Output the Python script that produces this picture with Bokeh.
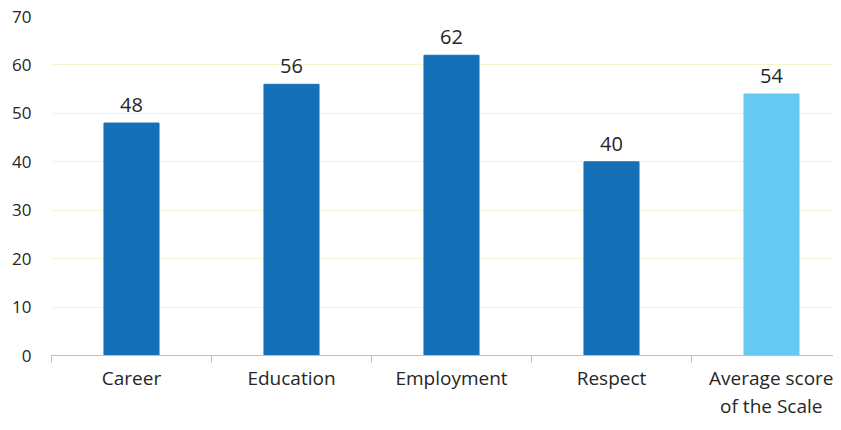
from bokeh.plotting import figure
from bokeh.models import ColumnDataSource, FixedTicker, Range1d
from bokeh.core.properties import value
from bokeh.embed import file_html
from bokeh.resources import INLINE

categories = ["Career", "Education", "Employment", "Respect", "Average score\nof the Scale"]
values = [48, 56, 62, 40, 54]
colors = ["#1570B8", "#1570B8", "#1570B8", "#1570B8", "#66C9F2"]
y_ticks = [0, 10, 20, 30, 40, 50, 60, 70]

xs = [i + 0.5 for i in range(len(categories))]
labels = [str(v) for v in values]
src = ColumnDataSource(dict(x=xs, top=values, color=colors, label=labels))

p = figure(width=833, height=422, output_backend="svg", toolbar_location=None,
           x_range=Range1d(0, 4.8875), y_range=Range1d(0, 70),
           min_border_left=51, min_border_right=0, min_border_top=16, min_border_bottom=67)
p.outline_line_color = None
p.background_fill_color = "white"
p.border_fill_color = "white"

p.vbar(x="x", top="top", width=0.344, color="color", source=src)
p.text(x="x", y="top", text="label", source=src, text_align="center", text_baseline="bottom",
       y_offset=-11, text_font=value("Open Sans"), text_font_size="20px", text_color="#262626")

# y axis
p.yaxis.ticker = FixedTicker(ticks=y_ticks)
p.yaxis.axis_line_color = None
p.yaxis.major_tick_line_color = None
p.yaxis.minor_tick_line_color = None
p.yaxis.major_label_standoff = 14
p.yaxis.major_label_text_font = "Open Sans"
p.yaxis.major_label_text_font_size = "17px"
p.yaxis.major_label_text_color = "#262626"

# x axis
p.xaxis.ticker = FixedTicker(ticks=xs, minor_ticks=[0, 1, 2, 3, 4, 5])
p.xaxis.major_label_overrides = {x: c for x, c in zip(xs, categories)}
p.xaxis.axis_line_color = "#BFBFBF"
p.xaxis.axis_line_width = 1
p.xaxis.major_tick_line_color = None
p.xaxis.minor_tick_line_color = "#BFBFBF"
p.xaxis.minor_tick_in = 0
p.xaxis.minor_tick_out = 7
p.xaxis.major_label_standoff = 2
p.xaxis.major_label_text_font = "Open Sans"
p.xaxis.major_label_text_font_size = "19px"
p.xaxis.major_label_text_line_height = 1.1
p.xaxis.major_label_text_color = "#262626"

p.xgrid.grid_line_color = None
p.ygrid.grid_line_color = "#F7F3CC"
p.ygrid.grid_line_width = 1

open("out.html", "w").write(file_html(p, INLINE))
